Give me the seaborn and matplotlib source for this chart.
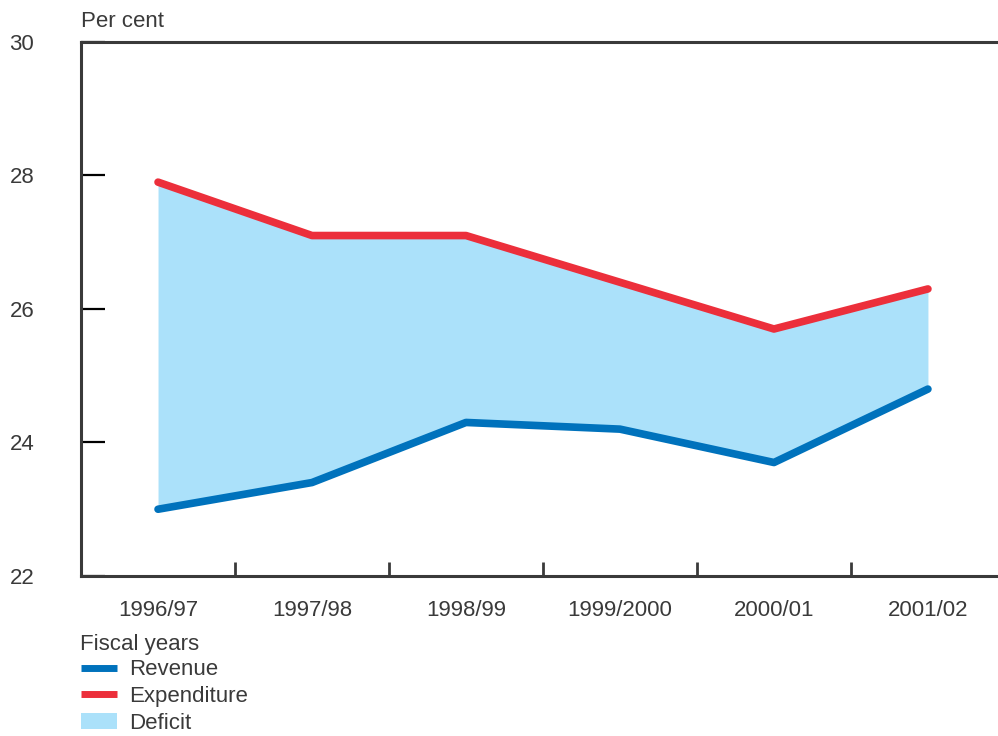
import numpy as np
import pandas as pd
import matplotlib.pyplot as plt
from matplotlib.lines import Line2D
from matplotlib.patches import Patch
import seaborn as sns

years = ["1996/97", "1997/98", "1998/99", "1999/2000", "2000/01", "2001/02"]
revenue = [23.0, 23.4, 24.3, 24.2, 23.7, 24.8]
expenditure = [27.9, 27.1, 27.1, 26.4, 25.7, 26.3]
y_ticks = [22, 24, 26, 28, 30]

BLUE = "#0072bc"
RED = "#ec2f3b"
LIGHT = "#abe1fa"
INK = "#3a3a3a"
FS = 16

sns.set_style("white")
plt.rcParams['font.family'] = ['Liberation Sans', 'DejaVu Sans']

df = pd.DataFrame({"x": np.arange(len(years)), "revenue": revenue, "expenditure": expenditure})

fig = plt.figure(figsize=(9.98, 7.36), dpi=100)
ax = fig.add_axes([0.0812, 0.2174, 0.9188, 0.7256])

# deficit band between the two lines
ax.fill_between(df["x"], df["revenue"], df["expenditure"], color=LIGHT, lw=0, zorder=1)
sns.lineplot(data=df, x="x", y="revenue", ax=ax, color=BLUE, lw=5.5, zorder=3)
sns.lineplot(data=df, x="x", y="expenditure", ax=ax, color=RED, lw=5.5, zorder=3)

ax.set_xlim(-0.5, 5.455)
ax.set_ylim(22, 30)
ax.set_xlabel("")
ax.set_ylabel("")

# category labels without marks, marks between categories
ax.set_xticks(df["x"])
ax.set_xticklabels(years)
ax.set_xticks(np.arange(0.5, len(years) - 0.5), minor=True)
ax.tick_params(axis="x", which="major", length=0, pad=17, labelsize=FS, labelcolor=INK)
ax.tick_params(axis="x", which="minor", direction="in", length=10, width=2, color=INK, bottom=True)

ax.set_yticks(y_ticks)
ax.tick_params(axis="y", which="major", direction="in", length=17, width=1.6, color="black",
               labelsize=FS, labelcolor=INK, pad=0, left=True)
for lab in ax.get_yticklabels():
    lab.set_horizontalalignment("left")
    lab.set_x(-0.078)

for side in ["left", "bottom", "top"]:
    ax.spines[side].set_color(INK)
    ax.spines[side].set_linewidth(2.2)
ax.spines["right"].set_visible(False)

ax.text(0.0, 1.018, "Per cent", transform=ax.transAxes, fontsize=FS, color=INK, ha="left", va="bottom")

fig.text(0.0802, 0.124, "Fiscal years", fontsize=FS, color=INK, ha="left", va="center")
handles = [
    Line2D([], [], color=BLUE, lw=5, solid_capstyle="butt"),
    Line2D([], [], color=RED, lw=5, solid_capstyle="butt"),
    Patch(facecolor=LIGHT, edgecolor="none"),
]
leg = fig.legend(handles, ["Revenue", "Expenditure", "Deficit"], loc="upper left",
                 bbox_to_anchor=(0.0812, 0.104), frameon=False, fontsize=FS,
                 handlelength=1.6, handleheight=0.75, handletextpad=0.55, labelspacing=0.26,
                 borderaxespad=0, borderpad=0)
for t in leg.get_texts():
    t.set_color(INK)

fig.savefig("out.png", dpi=100)
